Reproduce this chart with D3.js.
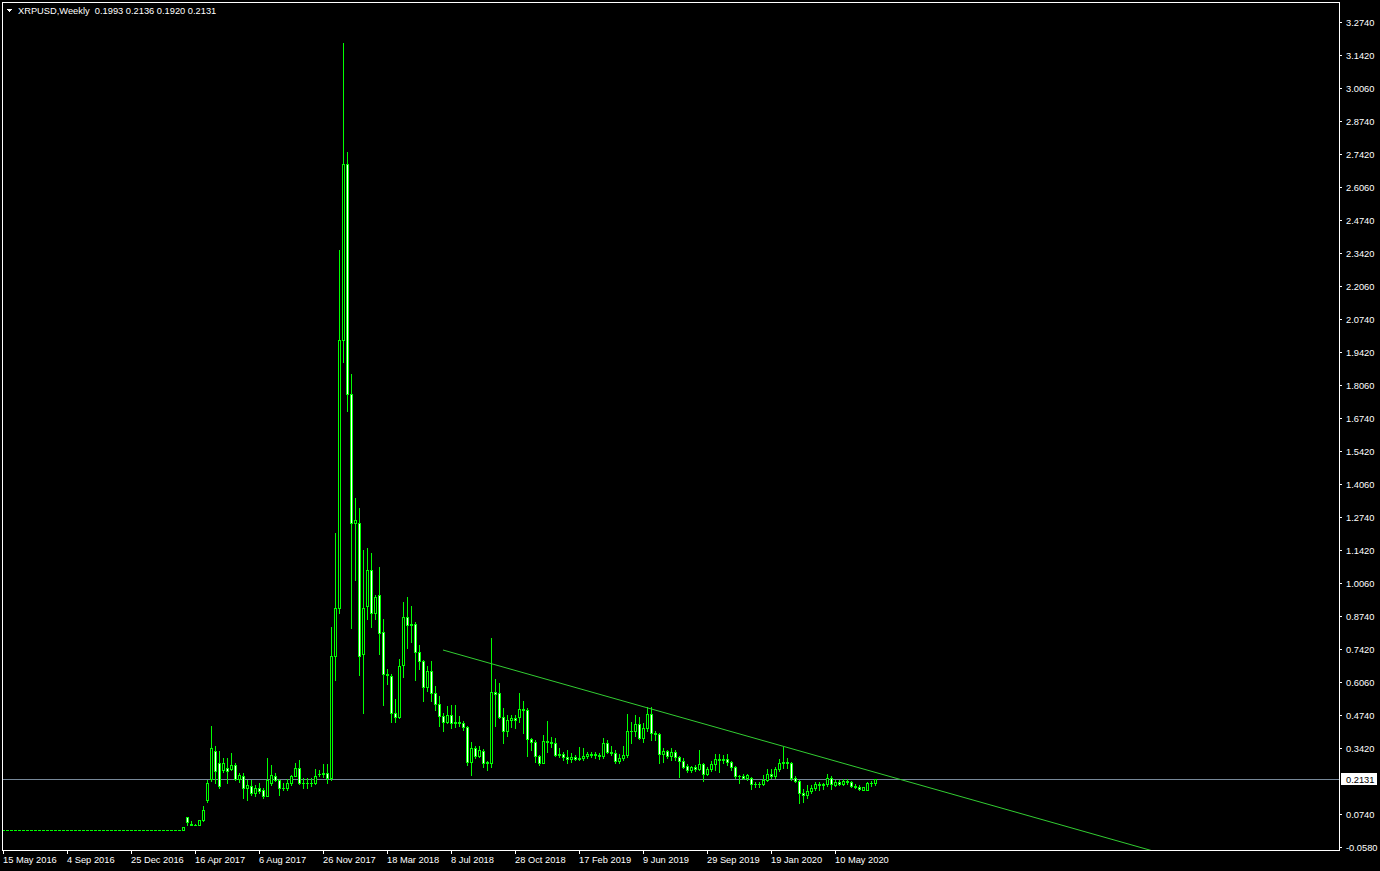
<!DOCTYPE html>
<html>
<head>
<meta charset="utf-8">
<script src="https://cdn.jsdelivr.net/npm/d3@7"></script>
<style>
  html, body { margin: 0; padding: 0; background: #000; }
  svg { display: block; }
  text { font-family: "Liberation Sans", Arial, sans-serif; font-size: 9.3px; fill: #fff; }
</style>
</head>
<body>
<div id="chart"></div>
<script>
// XRPUSD weekly candles, first bar is the week of 15 May 2016
var firstWeek = new Date(Date.UTC(2016, 4, 15));

var open = [
  0.0094,0.0094,0.0094,0.0094,0.0094,0.0094,0.0094,0.0094,0.0094,0.0094,
  0.0094,0.0094,0.0094,0.0094,0.0094,0.0094,0.0094,0.0094,0.0094,0.0094,
  0.0094,0.0094,0.0094,0.0094,0.0094,0.0094,0.0094,0.0094,0.0094,0.0094,
  0.0094,0.0094,0.0094,0.0094,0.0094,0.0094,0.0094,0.0094,0.0094,0.0094,
  0.0094,0.0094,0.0094,0.0094,0.0094,0.0094,0.060,0.031,0.030,0.029,
  0.050,0.128,0.215,0.329,0.278,0.250,0.260,0.255,0.272,0.215,
  0.227,0.179,0.188,0.159,0.179,0.171,0.147,0.199,0.228,0.211,
  0.179,0.179,0.198,0.228,0.260,0.199,0.198,0.199,0.198,0.236,
  0.236,0.240,0.218,0.710,0.907,1.989,2.700,1.770,1.250,1.248,
  0.718,0.915,1.060,0.887,0.959,0.808,0.638,0.630,0.480,0.466,
  0.676,0.869,0.838,0.840,0.730,0.690,0.588,0.650,0.561,0.518,
  0.471,0.447,0.474,0.440,0.446,0.441,0.425,0.285,0.339,0.308,
  0.328,0.281,0.279,0.566,0.561,0.465,0.410,0.454,0.460,0.465,
  0.498,0.495,0.376,0.364,0.308,0.281,0.369,0.365,0.362,0.312,
  0.316,0.303,0.295,0.305,0.296,0.299,0.308,0.316,0.310,0.312,
  0.306,0.360,0.322,0.319,0.288,0.301,0.312,0.409,0.410,0.436,
  0.379,0.420,0.478,0.402,0.398,0.316,0.326,0.306,0.325,0.303,
  0.287,0.266,0.252,0.262,0.255,0.276,0.236,0.254,0.276,0.295,
  0.290,0.294,0.283,0.263,0.225,0.227,0.219,0.218,0.195,0.194,
  0.196,0.211,0.234,0.225,0.254,0.279,0.284,0.279,0.220,0.208,
  0.160,0.152,0.166,0.180,0.195,0.189,0.194,0.218,0.192,0.204,
  0.196,0.207,0.201,0.188,0.184,0.172,0.172,0.197,0.1993
];
var high = [
  0.0094,0.0094,0.0094,0.0094,0.0094,0.0094,0.0094,0.0094,0.0094,0.0094,
  0.0094,0.0094,0.0094,0.0094,0.0094,0.0094,0.0094,0.0094,0.0094,0.0094,
  0.0094,0.0094,0.0094,0.0094,0.0094,0.0094,0.0094,0.0094,0.0094,0.0094,
  0.0094,0.0094,0.0094,0.0094,0.0094,0.0094,0.0094,0.0094,0.0094,0.0094,
  0.0094,0.0094,0.0094,0.0094,0.0094,0.0215,0.062,0.045,0.031,0.050,
  0.104,0.211,0.430,0.349,0.329,0.300,0.300,0.320,0.280,0.240,
  0.240,0.211,0.211,0.190,0.198,0.180,0.300,0.272,0.240,0.215,
  0.199,0.215,0.232,0.280,0.292,0.220,0.220,0.220,0.256,0.252,
  0.276,0.276,0.831,1.208,2.353,3.189,2.748,1.850,1.350,1.310,
  1.140,1.150,1.130,0.960,1.070,0.860,0.660,0.640,0.540,0.700,
  0.930,0.952,0.914,0.850,0.755,0.695,0.670,0.690,0.590,0.550,
  0.480,0.508,0.512,0.512,0.470,0.450,0.430,0.366,0.347,0.347,
  0.335,0.289,0.784,0.618,0.602,0.500,0.475,0.475,0.475,0.561,
  0.528,0.500,0.382,0.372,0.312,0.393,0.451,0.384,0.380,0.339,
  0.325,0.332,0.318,0.310,0.346,0.339,0.325,0.325,0.325,0.318,
  0.380,0.373,0.347,0.332,0.316,0.347,0.478,0.447,0.474,0.465,
  0.440,0.507,0.505,0.410,0.402,0.339,0.332,0.339,0.332,0.308,
  0.299,0.276,0.269,0.271,0.330,0.280,0.262,0.289,0.316,0.316,
  0.312,0.316,0.289,0.269,0.232,0.236,0.236,0.222,0.204,0.204,
  0.232,0.254,0.254,0.265,0.295,0.346,0.299,0.285,0.225,0.211,
  0.176,0.190,0.190,0.204,0.204,0.200,0.234,0.225,0.211,0.211,
  0.213,0.213,0.208,0.195,0.191,0.184,0.204,0.208,0.2136
];
var low = [
  0.0094,0.0094,0.0094,0.0094,0.0094,0.0094,0.0094,0.0094,0.0094,0.0094,
  0.0094,0.0094,0.0094,0.0094,0.0094,0.0094,0.0094,0.0094,0.0094,0.0094,
  0.0094,0.0094,0.0094,0.0094,0.0094,0.0094,0.0094,0.0094,0.0094,0.0094,
  0.0094,0.0094,0.0094,0.0094,0.0094,0.0094,0.0094,0.0094,0.0094,0.0094,
  0.0094,0.0094,0.0094,0.0094,0.0094,0.0094,0.030,0.029,0.029,0.027,
  0.047,0.120,0.205,0.198,0.178,0.245,0.200,0.250,0.210,0.203,
  0.139,0.130,0.150,0.145,0.160,0.140,0.145,0.190,0.205,0.150,
  0.170,0.170,0.190,0.225,0.195,0.180,0.180,0.188,0.195,0.228,
  0.224,0.199,0.212,0.615,0.887,1.900,1.700,0.826,1.020,0.636,
  0.482,0.860,0.830,0.860,0.720,0.514,0.600,0.447,0.447,0.460,
  0.629,0.743,0.770,0.615,0.660,0.528,0.570,0.530,0.494,0.427,
  0.410,0.443,0.420,0.425,0.430,0.413,0.272,0.232,0.300,0.305,
  0.265,0.252,0.265,0.430,0.460,0.360,0.390,0.425,0.420,0.445,
  0.400,0.308,0.332,0.285,0.272,0.278,0.325,0.343,0.308,0.305,
  0.292,0.278,0.285,0.290,0.292,0.292,0.298,0.305,0.298,0.294,
  0.300,0.319,0.310,0.281,0.281,0.292,0.305,0.360,0.390,0.375,
  0.365,0.410,0.373,0.373,0.281,0.285,0.298,0.292,0.292,0.224,
  0.258,0.244,0.244,0.248,0.250,0.208,0.232,0.248,0.252,0.244,
  0.281,0.272,0.252,0.218,0.199,0.216,0.212,0.174,0.182,0.182,
  0.190,0.205,0.218,0.218,0.248,0.260,0.260,0.212,0.204,0.117,
  0.122,0.140,0.157,0.170,0.170,0.174,0.187,0.176,0.187,0.189,
  0.190,0.195,0.182,0.178,0.170,0.170,0.170,0.187,0.1920
];
var close = [
  0.0094,0.0094,0.0094,0.0094,0.0094,0.0094,0.0094,0.0094,0.0094,0.0094,
  0.0094,0.0094,0.0094,0.0094,0.0094,0.0094,0.0094,0.0094,0.0094,0.0094,
  0.0094,0.0094,0.0094,0.0094,0.0094,0.0094,0.0094,0.0094,0.0094,0.0094,
  0.0094,0.0094,0.0094,0.0094,0.0094,0.0094,0.0094,0.0094,0.0094,0.0094,
  0.0094,0.0094,0.0094,0.0094,0.0094,0.0215,0.039,0.030,0.030,0.050,
  0.090,0.198,0.339,0.249,0.188,0.278,0.248,0.272,0.215,0.230,
  0.179,0.190,0.159,0.179,0.168,0.147,0.211,0.230,0.211,0.179,
  0.180,0.199,0.228,0.259,0.199,0.198,0.199,0.198,0.228,0.236,
  0.240,0.218,0.710,0.907,1.989,2.700,1.770,1.250,1.260,0.710,
  0.907,1.060,0.887,0.950,0.806,0.638,0.634,0.480,0.466,0.672,
  0.869,0.838,0.842,0.730,0.690,0.588,0.650,0.561,0.518,0.471,
  0.447,0.474,0.440,0.446,0.442,0.425,0.285,0.339,0.308,0.330,
  0.281,0.283,0.566,0.560,0.465,0.410,0.454,0.460,0.455,0.498,
  0.495,0.376,0.364,0.308,0.281,0.369,0.365,0.362,0.312,0.316,
  0.303,0.295,0.305,0.296,0.299,0.308,0.316,0.310,0.315,0.306,
  0.360,0.322,0.319,0.288,0.301,0.312,0.409,0.410,0.436,0.379,
  0.420,0.478,0.402,0.398,0.316,0.326,0.306,0.325,0.303,0.287,
  0.265,0.252,0.262,0.255,0.276,0.236,0.254,0.276,0.295,0.290,
  0.294,0.283,0.263,0.225,0.227,0.219,0.230,0.195,0.194,0.196,
  0.211,0.234,0.225,0.254,0.279,0.284,0.279,0.218,0.208,0.160,
  0.152,0.166,0.180,0.195,0.189,0.194,0.218,0.196,0.204,0.196,
  0.207,0.201,0.188,0.184,0.175,0.181,0.197,0.1993,0.2131
];

var timeLabels = ["15 May 2016", "4 Sep 2016", "25 Dec 2016", "16 Apr 2017",
  "6 Aug 2017", "26 Nov 2017", "18 Mar 2018", "8 Jul 2018", "28 Oct 2018",
  "17 Feb 2019", "9 Jun 2019", "29 Sep 2019", "19 Jan 2020", "10 May 2020"];
var priceLabels = ["3.2740", "3.1420", "3.0060", "2.8740", "2.7420", "2.6060",
  "2.4740", "2.3420", "2.2060", "2.0740", "1.9420", "1.8060", "1.6740", "1.5420",
  "1.4060", "1.2740", "1.1420", "1.0060", "0.8740", "0.7420", "0.6060", "0.4740",
  "0.3420", "0.0740", "-0.0580"];
var bidPrice = 0.2131;

// hand drawn trend line, two anchor points
var trendDates = ["2018-06-24", "2021-11-14"];
var trendPrices = [0.7361, -0.0738];

var width = 1380, height = 871;
var plotRight = 1339, plotBottom = 850;

var dates = open.map(function (d, i) { return d3.utcWeek.offset(firstWeek, i); });
var bars = dates.map(function (d, i) {
  return { date: d, o: open[i], h: high[i], l: low[i], c: close[i] };
});

var x = d3.scaleUtc()
  .domain([firstWeek, d3.utcWeek.offset(firstWeek, 334)])
  .range([3, 1339]);

var y = d3.scaleLinear()
  .domain([-0.058, 3.274])
  .range([846.5, 22]);

var svg = d3.select("#chart").append("svg")
  .attr("width", width)
  .attr("height", height)
  .attr("shape-rendering", "crispEdges");

svg.append("rect")
  .attr("width", width)
  .attr("height", height)
  .attr("fill", "#000");

svg.append("clipPath").attr("id", "plot")
  .append("rect")
    .attr("x", 3).attr("y", 3)
    .attr("width", plotRight - 3).attr("height", plotBottom - 3);

var plot = svg.append("g").attr("clip-path", "url(#plot)");

// bid line
var bidY = Math.round(y(bidPrice)) + 0.5;
plot.append("line")
  .attr("x1", 0).attr("x2", plotRight)
  .attr("y1", bidY).attr("y2", bidY)
  .attr("stroke", "#778899");

function cx (d) { return Math.round(x(d.date)); }
function py (v) { return Math.round(y(v)); }

// wicks
plot.selectAll(".wick").data(bars)
  .enter().append("rect")
    .attr("class", "wick")
    .attr("x", cx)
    .attr("y", function (d) { return py(d.h); })
    .attr("width", 1)
    .attr("height", function (d) { return py(d.l) - py(d.h) + 1; })
    .attr("fill", "#00ff00");

// bodies: green frame, black inside when up, white when down
plot.selectAll(".body").data(bars)
  .enter().append("rect")
    .attr("class", "body")
    .attr("x", function (d) { return cx(d) - 1; })
    .attr("y", function (d) { return Math.min(py(d.o), py(d.c)); })
    .attr("width", 3)
    .attr("height", function (d) { return Math.abs(py(d.o) - py(d.c)) + 1; })
    .attr("fill", "#00ff00");

plot.selectAll(".inner").data(bars.filter(function (d) {
    return Math.abs(py(d.o) - py(d.c)) > 1;
  }))
  .enter().append("rect")
    .attr("class", "inner")
    .attr("x", cx)
    .attr("y", function (d) { return Math.min(py(d.o), py(d.c)) + 1; })
    .attr("width", 1)
    .attr("height", function (d) { return Math.abs(py(d.o) - py(d.c)) - 1; })
    .attr("fill", function (d) { return d.c >= d.o ? "#000" : "#fff"; });

// trend line
var parseIso = d3.utcParse("%Y-%m-%d");
plot.append("line")
  .attr("x1", x(parseIso(trendDates[0]))).attr("y1", y(trendPrices[0]))
  .attr("x2", x(parseIso(trendDates[1]))).attr("y2", y(trendPrices[1]))
  .attr("stroke", "#32cd32")
  .attr("stroke-width", 1)
  .attr("shape-rendering", "auto");

// frame
svg.append("rect")
  .attr("x", 2.5).attr("y", 2.5)
  .attr("width", plotRight - 2).attr("height", plotBottom - 2)
  .attr("fill", "none")
  .attr("stroke", "#fff");

// price axis
var priceAxis = svg.append("g");
priceAxis.selectAll("line").data(priceLabels)
  .enter().append("line")
    .attr("x1", plotRight).attr("x2", plotRight + 3)
    .attr("y1", function (d) { return Math.round(y(+d)) + 0.5; })
    .attr("y2", function (d) { return Math.round(y(+d)) + 0.5; })
    .attr("stroke", "#fff");
priceAxis.selectAll("text").data(priceLabels)
  .enter().append("text")
    .attr("x", 1346)
    .attr("y", function (d) { return Math.round(y(+d)) + 4; })
    .text(function (d) { return d; });

// bid price tag
svg.append("rect")
  .attr("x", 1341).attr("y", bidY - 6.5)
  .attr("width", 36).attr("height", 12)
  .attr("fill", "#fff");
svg.append("text")
  .attr("x", 1346).attr("y", bidY + 3.5)
  .style("fill", "#000")
  .text(bidPrice.toFixed(4));

// time axis
var parseLabel = d3.utcParse("%d %b %Y");
var timeAxis = svg.append("g");
timeAxis.selectAll("line").data(timeLabels)
  .enter().append("line")
    .attr("x1", function (d) { return Math.round(x(parseLabel(d))) + 0.5; })
    .attr("x2", function (d) { return Math.round(x(parseLabel(d))) + 0.5; })
    .attr("y1", plotBottom).attr("y2", plotBottom + 4)
    .attr("stroke", "#fff");
timeAxis.selectAll("text").data(timeLabels)
  .enter().append("text")
    .attr("x", function (d) { return Math.round(x(parseLabel(d))); })
    .attr("y", 863)
    .text(function (d) { return d; });

// header
svg.append("path")
  .attr("d", "M7,9 L12,9 L9.5,12 Z")
  .attr("fill", "#fff");
svg.append("text")
  .attr("x", 18).attr("y", 14)
  .text("XRPUSD,Weekly  " + [open, high, low, close].map(function (s) {
    return s[s.length - 1].toFixed(4);
  }).join(" "))
  .attr("xml:space", "preserve")
  .style("white-space", "pre");
</script>
</body>
</html>
